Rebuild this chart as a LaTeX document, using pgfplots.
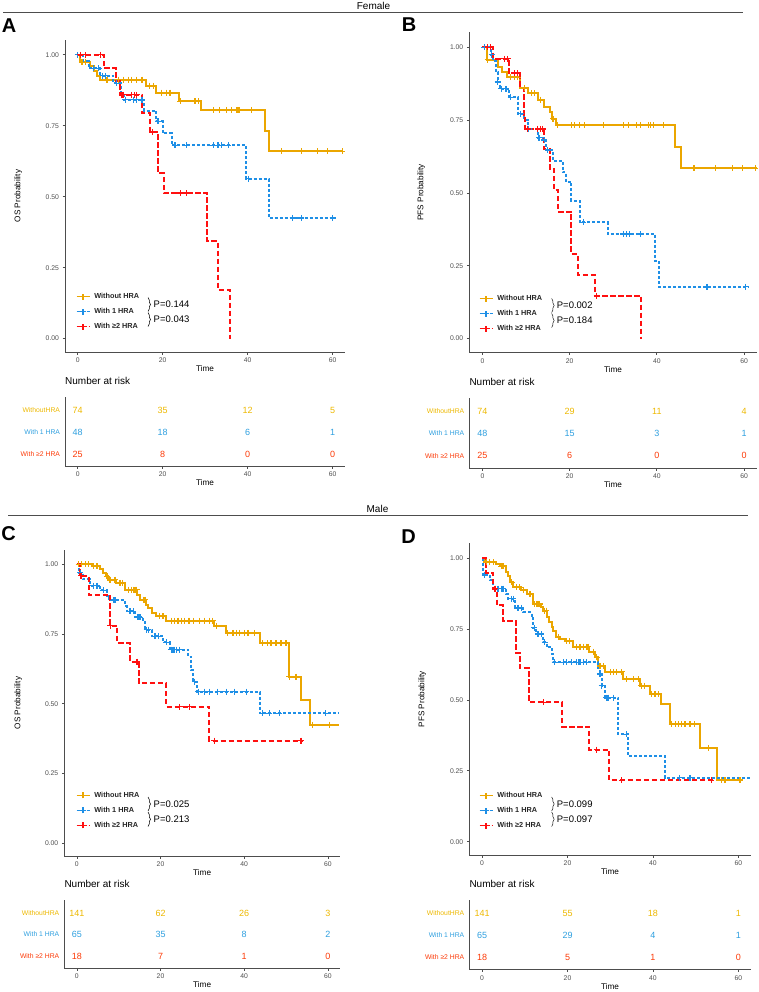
\documentclass[border=0pt]{standalone}
\usepackage{pgfplots}
\pgfplotsset{compat=1.18}
\usepackage{fontspec}
\setmainfont{Liberation Sans}
\usetikzlibrary{decorations.pathreplacing}

\definecolor{cOr}{HTML}{EBA600}
\definecolor{cBl}{HTML}{1E8FE6}
\definecolor{cRd}{HTML}{FF1010}
\definecolor{tOr}{HTML}{EDB800}
\definecolor{tBl}{HTML}{2E9FDF}
\definecolor{tRd}{HTML}{FC3A07}
\definecolor{axc}{HTML}{4D4D4D}

\pgfplotsset{
  /pgf/number format/assume math mode=true,
  km/.style={
    scale only axis, axis lines*=left, clip=false,
    xmin=-3, xmax=62.9, ymin=-0.047, ymax=1.052,
    xtick={0,20,40,60}, ytick={0,0.25,0.5,0.75,1},
    yticklabel style={/pgf/number format/fixed,/pgf/number format/fixed zerofill,/pgf/number format/precision=2},
    tick align=outside, major tick length=2.5pt,
    axis line style={draw=axc, line width=1pt},
    tick style={draw=axc, line width=0.7pt},
    tick label style={font=\fontsize{6.8}{7}\selectfont, text=axc},
    label style={font=\fontsize{8.2}{9}\selectfont},
    xlabel=Time,
    xlabel style={at={(axis description cs:0.5,0)}, anchor=center, yshift=-17pt},
    ylabel style={at={(axis description cs:-0.167,0.5)}, anchor=center},
    legend style={draw=none, fill=none, anchor=north west, inner sep=0pt, row sep=5pt,
      font=\fontsize{7.3}{8}\selectfont\bfseries, text=black!85,
      nodes={inner sep=1.5pt, text height=5.4pt, text depth=1.6pt},
      /tikz/every odd column/.append style={column sep=2.5pt}},
    legend cell align=left,
    legend image code/.code={\draw[#1] (0pt,0pt) -- (13pt,0pt); \draw[#1, solid] (6.5pt,-3pt) -- (6.5pt,3pt) (3.5pt,0pt) -- (9.5pt,0pt);},
  },
  rt/.style={
    scale only axis, axis lines*=left, clip=false,
    xmin=-3, xmax=62.9, ymin=0.45, ymax=3.6,
    xtick={0,20,40,60}, ytick={1,2,3},
    yticklabels={{\textcolor{tRd}{With ≥2 HRA}},{\textcolor{tBl}{With 1 HRA}},{\textcolor{tOr}{WithoutHRA}}},
    tick align=outside, major tick length=2.5pt,
    axis line style={draw=axc, line width=1pt},
    tick style={draw=axc, line width=0.7pt},
    ytick style={draw=none},
    x tick label style={font=\fontsize{6.8}{7}\selectfont, text=axc},
    y tick label style={font=\fontsize{6.8}{7}\selectfont, xshift=1pt},
    label style={font=\fontsize{8.2}{9}\selectfont},
    xlabel=Time,
    xlabel style={at={(axis description cs:0.5,0)}, anchor=center, yshift=-17pt},
    title=Number at risk,
    title style={at={(axis description cs:0,1)}, anchor=west, yshift=10pt, inner sep=0pt, font=\fontsize{10}{12}\selectfont},
    nodes near coords, nodes near coords align={center},
    every node near coord/.append style={anchor=center, inner sep=0pt, font=\fontsize{9}{10}\selectfont},
  },
  oline/.style={color=cOr, line width=2pt, const plot, forget plot},
  bline/.style={color=cBl, line width=2pt, const plot, forget plot, dash pattern=on 3pt off 2pt},
  rline/.style={color=cRd, line width=2pt, const plot, forget plot, dash pattern=on 5.5pt off 2.5pt},
  cens/.style={only marks, mark=+, mark size=3pt, forget plot, line width=1.2pt},
  rrow/.style={only marks, mark=none, point meta=explicit symbolic},
  legOr/.style={color=cOr, line width=1.6pt},
  legBl/.style={color=cBl, line width=1.6pt, dash pattern=on 3pt off 2pt},
  legRd/.style={color=cRd, line width=1.6pt, dash pattern=on 4pt off 2pt},
}

\begin{document}
\begin{tikzpicture}
\path[use as bounding box] (0pt,0pt) rectangle (759pt,-992pt);

% headers
\node[font=\fontsize{10}{12}\selectfont] at (373.5pt,-6pt) {Female};
\draw[axc, line width=0.8pt] (3pt,-12.3pt) -- (743pt,-12.3pt);
\node[font=\fontsize{10}{12}\selectfont] at (377.5pt,-508.5pt) {Male};
\draw[axc, line width=0.8pt] (8pt,-515pt) -- (748pt,-515pt);
\node[font=\fontsize{20}{20}\selectfont\bfseries] at (9pt,-25.5pt) {A};
\node[font=\fontsize{20}{20}\selectfont\bfseries] at (409pt,-24.5pt) {B};
\node[font=\fontsize{20}{20}\selectfont\bfseries] at (8.5pt,-533.5pt) {C};
\node[font=\fontsize{20}{20}\selectfont\bfseries] at (408.5pt,-536.5pt) {D};

% ---------------- A ----------------
\begin{axis}[km, at={(65pt,-352pt)}, anchor=south west, width=280pt, height=312pt,
  ylabel={OS Probability}, legend style={at={(axis description cs:0.0375,0.194)}}]
\addlegendimage{legOr}\addlegendentry{Without HRA}
\addlegendimage{legBl}\addlegendentry{With 1 HRA}
\addlegendimage{legRd}\addlegendentry{With ≥2 HRA}
\addplot[oline] coordinates {(0,1)(0.6,0.974)(2.8,0.959)(3.8,0.944)(4.5,0.924)(5.3,0.912)(16.0,0.891)(18.4,0.867)(23.8,0.836)(29.0,0.806)(44.0,0.732)(45.0,0.660)(62.3,0.660)};
\addplot[cens, color=cOr] coordinates {(1.0,0.974)(1.8,0.974)(6.9,0.912)(9.6,0.912)(10.8,0.912)(12.0,0.912)(12.7,0.912)(13.9,0.912)(15.1,0.912)(16.8,0.891)(17.8,0.891)(19.8,0.867)(20.9,0.867)(21.7,0.867)(24.1,0.836)(27.6,0.836)(28.4,0.836)(31.9,0.806)(33.4,0.806)(35.0,0.806)(36.2,0.806)(37.5,0.806)(37.8,0.806)(38.1,0.806)(40.9,0.806)(47.9,0.660)(52.6,0.660)(56.5,0.660)(58.8,0.660)(62.3,0.660)};
\addplot[bline] coordinates {(0,1)(1.25,0.977)(2.6,0.953)(5.3,0.926)(8.4,0.900)(10.2,0.865)(10.8,0.842)(15.6,0.803)(18.5,0.765)(20.0,0.724)(22.1,0.681)(39.7,0.563)(45.0,0.425)(60.0,0.425)};
\addplot[cens, color=cBl] coordinates {(0,1)(3.75,0.953)(4.9,0.953)(5.9,0.926)(6.5,0.926)(9.2,0.900)(11.2,0.842)(13.1,0.842)(13.9,0.842)(15.1,0.842)(18.9,0.765)(22.9,0.681)(25.6,0.681)(31.9,0.681)(33.0,0.681)(33.8,0.681)(35.4,0.681)(40.1,0.563)(50.6,0.425)(52.6,0.425)(60.0,0.425)};
\addplot[rline] coordinates {(0,1)(6.1,0.953)(9.1,0.906)(10.0,0.859)(15.1,0.795)(17.0,0.728)(19.0,0.583)(20.2,0.513)(30.5,0.343)(33.0,0.173)(35.8,0)};
\addplot[cens, color=cRd] coordinates {(0.6,1)(1.8,1)(5.3,1)(10.4,0.859)(10.8,0.859)(12.7,0.859)(13.3,0.859)(13.9,0.859)(17.5,0.728)(24.1,0.513)(25.6,0.513)};
\end{axis}
\draw[decorate, decoration={brace, amplitude=2.5pt}, line width=0.5pt] (148pt,-297.5pt) -- (148pt,-311.5pt);
\draw[decorate, decoration={brace, amplitude=2.5pt}, line width=0.5pt] (148pt,-312.5pt) -- (148pt,-326.5pt);
\node[anchor=west, inner sep=0pt, font=\fontsize{9.5}{10}\selectfont] at (153.5pt,-304pt) {P=0.144};
\node[anchor=west, inner sep=0pt, font=\fontsize{9.5}{10}\selectfont] at (153.5pt,-319pt) {P=0.043};

\begin{axis}[rt, at={(65pt,-466pt)}, anchor=south west, width=280pt, height=69pt]
\addplot[rrow, color=tOr] coordinates {(0,3)[74] (20,3)[35] (40,3)[12] (60,3)[5]};
\addplot[rrow, color=tBl] coordinates {(0,2)[48] (20,2)[18] (40,2)[6] (60,2)[1]};
\addplot[rrow, color=tRd] coordinates {(0,1)[25] (20,1)[8] (40,1)[0] (60,1)[0]};
\end{axis}

% ---------------- B ----------------
\begin{axis}[km, at={(469.3pt,-352.3pt)}, anchor=south west, width=287.4pt, height=320pt,
  ylabel={PFS Probability}, legend style={at={(axis description cs:0.032,0.184)}}]
\addlegendimage{legOr}\addlegendentry{Without HRA}
\addlegendimage{legBl}\addlegendentry{With 1 HRA}
\addlegendimage{legRd}\addlegendentry{With ≥2 HRA}
\addplot[oline] coordinates {(0,1)(1.0,0.958)(3.5,0.932)(4.6,0.915)(5.6,0.898)(8.7,0.861)(10.4,0.843)(12.7,0.821)(14.2,0.797)(15.4,0.778)(15.9,0.755)(16.9,0.732)(44.2,0.659)(45.6,0.585)(62.9,0.585)};
\addplot[cens, color=cOr] coordinates {(1.2,0.958)(6.5,0.898)(7.3,0.898)(8.1,0.898)(9.6,0.861)(11.2,0.843)(11.9,0.843)(13.3,0.821)(16.2,0.755)(17.3,0.732)(20.4,0.732)(21.2,0.732)(22.3,0.732)(23.5,0.732)(27.7,0.732)(32.3,0.732)(33.5,0.732)(35.4,0.732)(36.2,0.732)(38.1,0.732)(38.5,0.732)(39.2,0.732)(41.5,0.732)(48.5,0.585)(53.5,0.585)(57.3,0.585)(59.6,0.585)(62.6,0.585)};
\addplot[bline] coordinates {(0,1)(1.9,0.975)(2.5,0.953)(3.1,0.915)(3.5,0.881)(4.1,0.858)(6.2,0.829)(8.2,0.772)(9.6,0.751)(10.4,0.720)(12.8,0.690)(13.8,0.682)(14.6,0.648)(16.2,0.611)(18.5,0.571)(19.2,0.537)(20.4,0.474)(22.3,0.399)(28.8,0.359)(39.6,0.267)(40.4,0.178)(61.2,0.178)};
\addplot[cens, color=cBl] coordinates {(0.4,1)(2.1,0.975)(3.5,0.881)(4.3,0.858)(5.4,0.858)(6.5,0.829)(8.8,0.772)(10.6,0.720)(13.0,0.690)(14.2,0.682)(15.0,0.648)(23.1,0.399)(32.3,0.359)(33.1,0.359)(33.8,0.359)(36.2,0.359)(51.5,0.178)(60.4,0.178)};
\addplot[rline] coordinates {(0,1)(2.5,0.961)(6.2,0.912)(8.7,0.861)(9.5,0.766)(9.8,0.720)(14.2,0.651)(15.4,0.583)(16.4,0.510)(17.3,0.436)(20.4,0.290)(21.9,0.219)(25.8,0.147)(36.4,0)};
\addplot[cens, color=cRd] coordinates {(1.2,1)(1.9,1)(5.0,0.961)(5.8,0.961)(7.3,0.912)(8.1,0.912)(10.4,0.720)(12.7,0.720)(13.3,0.720)(13.8,0.720)(26.2,0.147)};
\end{axis}
\draw[decorate, decoration={brace, amplitude=2.5pt}, line width=0.5pt] (551.7pt,-298.5pt) -- (551.7pt,-312.5pt);
\draw[decorate, decoration={brace, amplitude=2.5pt}, line width=0.5pt] (551.7pt,-313.5pt) -- (551.7pt,-327.5pt);
\node[anchor=west, inner sep=0pt, font=\fontsize{9.5}{10}\selectfont] at (556.7pt,-305.5pt) {P=0.002};
\node[anchor=west, inner sep=0pt, font=\fontsize{9.5}{10}\selectfont] at (556.7pt,-320.5pt) {P=0.184};

\begin{axis}[rt, at={(469.3pt,-468pt)}, anchor=south west, width=287.4pt, height=70pt]
\addplot[rrow, color=tOr] coordinates {(0,3)[74] (20,3)[29] (40,3)[11] (60,3)[4]};
\addplot[rrow, color=tBl] coordinates {(0,2)[48] (20,2)[15] (40,2)[3] (60,2)[1]};
\addplot[rrow, color=tRd] coordinates {(0,1)[25] (20,1)[6] (40,1)[0] (60,1)[0]};
\end{axis}

% ---------------- C ----------------
\begin{axis}[km, at={(64.3pt,-856pt)}, anchor=south west, width=275.7pt, height=306pt,
  ylabel={OS Probability}, legend style={at={(axis description cs:0.041,0.215)}}]
\addlegendimage{legOr}\addlegendentry{Without HRA}
\addlegendimage{legBl}\addlegendentry{With 1 HRA}
\addlegendimage{legRd}\addlegendentry{With ≥2 HRA}
\addplot[oline] coordinates {(0,1)(3.6,0.994)(5.6,0.982)(6.3,0.970)(7.0,0.958)(7.5,0.946)(9.4,0.934)(11.5,0.910)(14.4,0.892)(15.1,0.874)(16.5,0.856)(17.1,0.844)(17.9,0.826)(19.0,0.814)(21.4,0.798)(32.9,0.778)(35.7,0.754)(43.7,0.718)(50.6,0.597)(53.6,0.513)(55.7,0.425)(62.7,0.425)};
\addplot[cens, color=cOr] coordinates {(0.4,1)(1.2,1)(2.0,1)(2.8,1)(4.0,0.994)(4.8,0.994)(7.2,0.958)(7.9,0.946)(9.1,0.946)(10.3,0.934)(11.0,0.934)(12.3,0.910)(13.1,0.910)(13.5,0.910)(13.9,0.910)(14.3,0.910)(15.9,0.874)(16.3,0.874)(19.8,0.814)(20.6,0.814)(22.6,0.798)(23.4,0.798)(24.2,0.798)(25.0,0.798)(25.8,0.798)(26.6,0.798)(27.0,0.798)(27.8,0.798)(29.4,0.798)(30.6,0.798)(31.7,0.798)(32.5,0.798)(33.3,0.778)(36.1,0.754)(37.3,0.754)(38.1,0.754)(38.9,0.754)(40.1,0.754)(40.9,0.754)(42.5,0.754)(44.4,0.718)(45.6,0.718)(46.4,0.718)(47.6,0.718)(48.8,0.718)(50.0,0.718)(50.8,0.597)(52.4,0.597)(56.3,0.425)(60.3,0.425)};
\addplot[bline] coordinates {(0,1)(0.4,0.970)(1.4,0.948)(3.2,0.924)(5.6,0.907)(7.1,0.888)(7.8,0.871)(11.5,0.850)(11.9,0.832)(13.9,0.811)(15.9,0.796)(16.3,0.766)(17.9,0.742)(20.6,0.720)(22.2,0.694)(26.6,0.669)(27.4,0.621)(27.8,0.579)(28.6,0.543)(43.7,0.465)(62.7,0.465)};
\addplot[cens, color=cBl] coordinates {(0.8,0.970)(3.9,0.924)(4.8,0.924)(6.3,0.907)(8.7,0.871)(9.1,0.871)(12.7,0.832)(13.5,0.832)(14.6,0.811)(15.1,0.811)(16.7,0.766)(17.1,0.766)(18.7,0.742)(19.5,0.742)(21.4,0.720)(22.6,0.694)(23.0,0.694)(23.4,0.694)(23.8,0.694)(24.6,0.694)(28.2,0.579)(29.0,0.543)(30.6,0.543)(31.7,0.543)(33.7,0.543)(35.7,0.543)(37.7,0.543)(40.5,0.543)(44.4,0.465)(46.0,0.465)(48.4,0.465)(59.5,0.465)};
\addplot[rline] coordinates {(0,1)(0.8,0.960)(2.8,0.892)(7.9,0.780)(9.7,0.718)(12.7,0.651)(14.9,0.573)(21.4,0.489)(31.7,0.367)(54.0,0.367)};
\addplot[cens, color=cRd] coordinates {(1.0,0.960)(8.0,0.780)(14.4,0.651)(24.6,0.489)(27.0,0.489)(32.9,0.367)(53.6,0.367)};
\end{axis}
\draw[decorate, decoration={brace, amplitude=2.5pt}, line width=0.5pt] (148pt,-797pt) -- (148pt,-811pt);
\draw[decorate, decoration={brace, amplitude=2.5pt}, line width=0.5pt] (148pt,-812pt) -- (148pt,-826.5pt);
\node[anchor=west, inner sep=0pt, font=\fontsize{9.5}{10}\selectfont] at (153.5pt,-804pt) {P=0.025};
\node[anchor=west, inner sep=0pt, font=\fontsize{9.5}{10}\selectfont] at (153.5pt,-819pt) {P=0.213};

\begin{axis}[rt, at={(64.3pt,-968pt)}, anchor=south west, width=275.7pt, height=68pt]
\addplot[rrow, color=tOr] coordinates {(0,3)[141] (20,3)[62] (40,3)[26] (60,3)[3]};
\addplot[rrow, color=tBl] coordinates {(0,2)[65] (20,2)[35] (40,2)[8] (60,2)[2]};
\addplot[rrow, color=tRd] coordinates {(0,1)[18] (20,1)[7] (40,1)[1] (60,1)[0]};
\end{axis}

% ---------------- D ----------------
\begin{axis}[km, at={(469.3pt,-855pt)}, anchor=south west, width=281.4pt, height=311.7pt,
  ylabel={PFS Probability}, legend style={at={(axis description cs:0.033,0.207)}}]
\addlegendimage{legOr}\addlegendentry{Without HRA}
\addlegendimage{legBl}\addlegendentry{With 1 HRA}
\addlegendimage{legRd}\addlegendentry{With ≥2 HRA}
\addplot[oline] coordinates {(0,1)(0.6,0.986)(3.2,0.980)(4.1,0.971)(5.5,0.950)(6.1,0.935)(6.6,0.915)(7.3,0.897)(9.2,0.886)(10.4,0.874)(12.0,0.838)(13.9,0.827)(14.3,0.815)(15.2,0.791)(15.7,0.774)(16.3,0.758)(16.6,0.744)(17.4,0.720)(18.2,0.715)(19.4,0.706)(21.3,0.688)(25.1,0.670)(26.4,0.650)(27.2,0.620)(28.8,0.599)(33.0,0.573)(37.0,0.550)(39.3,0.520)(42.0,0.485)(44.0,0.414)(51.0,0.331)(54.9,0.216)(61.2,0.216)};
\addplot[cens, color=cOr] coordinates {(1.0,0.986)(1.8,0.986)(2.6,0.986)(4.5,0.971)(4.9,0.971)(6.9,0.915)(8.0,0.897)(8.8,0.897)(9.6,0.886)(11.2,0.874)(12.3,0.838)(12.7,0.838)(13.1,0.838)(13.5,0.838)(14.7,0.815)(15.0,0.815)(17.8,0.720)(19.8,0.706)(20.5,0.706)(22.1,0.688)(22.9,0.688)(23.7,0.688)(24.5,0.688)(24.8,0.688)(26.0,0.670)(26.8,0.650)(27.6,0.620)(28.4,0.620)(30.0,0.599)(30.7,0.599)(31.5,0.599)(32.7,0.599)(33.8,0.573)(35.4,0.573)(36.6,0.573)(37.3,0.550)(38.1,0.550)(39.7,0.520)(40.5,0.520)(41.3,0.520)(44.4,0.414)(45.2,0.414)(45.9,0.414)(46.7,0.414)(47.5,0.414)(48.7,0.414)(49.8,0.414)(53.0,0.331)(56.1,0.216)(56.9,0.216)(60.4,0.216)};
\addplot[bline] coordinates {(0,1)(0.1,0.939)(1.8,0.921)(2.6,0.892)(5.7,0.874)(6.1,0.856)(7.7,0.824)(9.6,0.809)(11.6,0.789)(12.0,0.754)(12.7,0.732)(14.3,0.703)(15.1,0.687)(16.3,0.662)(16.6,0.632)(27.2,0.612)(27.6,0.591)(28.0,0.550)(28.8,0.508)(31.9,0.379)(34.2,0.302)(42.8,0.225)(62.9,0.225)};
\addplot[cens, color=cBl] coordinates {(0.6,0.939)(3.0,0.892)(3.7,0.892)(4.5,0.892)(4.9,0.892)(6.9,0.856)(7.3,0.856)(8.4,0.824)(9.2,0.824)(12.2,0.754)(13.1,0.732)(13.9,0.732)(14.7,0.703)(17.0,0.632)(19.0,0.632)(19.8,0.632)(20.9,0.632)(22.1,0.632)(22.5,0.632)(22.9,0.632)(23.7,0.632)(24.5,0.632)(27.6,0.591)(28.0,0.550)(29.1,0.508)(29.5,0.508)(30.7,0.508)(33.8,0.379)(46.3,0.225)(48.7,0.225)};
\addplot[rline] coordinates {(0,1)(0.9,0.947)(2.6,0.892)(3.4,0.833)(4.9,0.779)(7.9,0.664)(8.8,0.611)(11.0,0.491)(18.8,0.404)(25.1,0.325)(29.8,0.216)(54.1,0.216)};
\addplot[cens, color=cRd] coordinates {(3.0,0.892)(14.3,0.491)(26.8,0.325)(32.7,0.216)(53.7,0.216)};
\end{axis}
\draw[decorate, decoration={brace, amplitude=2.5pt}, line width=0.5pt] (551.7pt,-797pt) -- (551.7pt,-811pt);
\draw[decorate, decoration={brace, amplitude=2.5pt}, line width=0.5pt] (551.7pt,-812pt) -- (551.7pt,-826.5pt);
\node[anchor=west, inner sep=0pt, font=\fontsize{9.5}{10}\selectfont] at (556.7pt,-804pt) {P=0.099};
\node[anchor=west, inner sep=0pt, font=\fontsize{9.5}{10}\selectfont] at (556.7pt,-819pt) {P=0.097};

\begin{axis}[rt, at={(469.3pt,-969.3pt)}, anchor=south west, width=281.4pt, height=69.3pt]
\addplot[rrow, color=tOr] coordinates {(0,3)[141] (20,3)[55] (40,3)[18] (60,3)[1]};
\addplot[rrow, color=tBl] coordinates {(0,2)[65] (20,2)[29] (40,2)[4] (60,2)[1]};
\addplot[rrow, color=tRd] coordinates {(0,1)[18] (20,1)[5] (40,1)[1] (60,1)[0]};
\end{axis}
\end{tikzpicture}
\end{document}
